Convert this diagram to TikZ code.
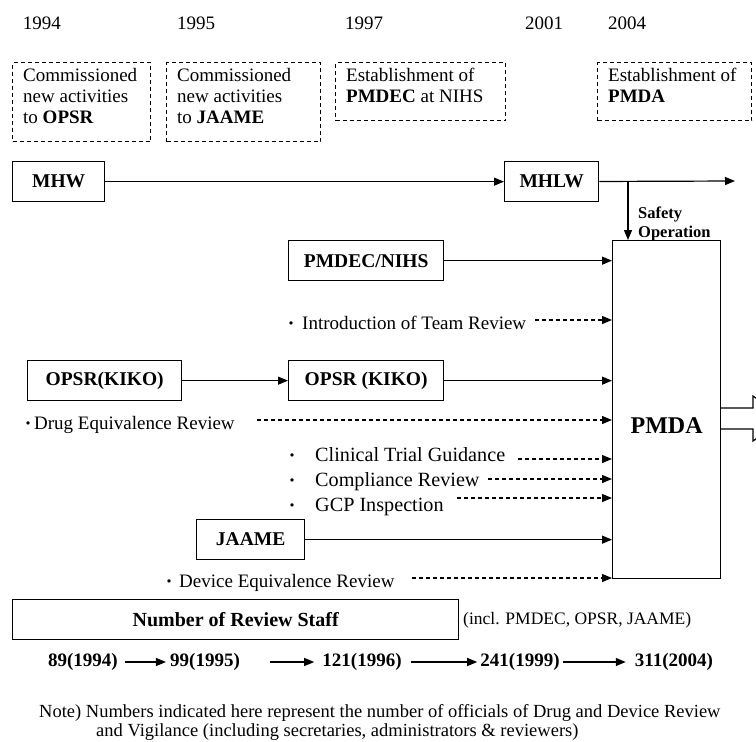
\documentclass[tikz,border=0pt]{standalone}
\usepackage{fontspec}
\setmainfont{Liberation Serif}
\newfontfamily\cjk{Noto Sans CJK JP}
\usetikzlibrary{arrows.meta}

\newcommand{\dotitem}[2]{\makebox[#1][l]{\makebox[6pt]{\cjk\fontsize{16}{16}\selectfont ・}}#2}

\begin{document}
\begin{tikzpicture}[x=1pt,y=-1pt,every node/.style={font=\fontsize{19}{21}\selectfont,inner sep=0pt},
  box/.style={draw,line width=1.3pt,minimum height=40pt,anchor=north west,font=\fontsize{19.5}{21}\selectfont\bfseries},
  datebox/.style={draw,line width=1.2pt,dash pattern=on 4pt off 3pt,anchor=north west},
  boxtext/.style={anchor=north west,align=left},
  item/.style={anchor=base west},
  bigitem/.style={item,font=\fontsize{20.2}{22}\selectfont},
  num/.style={font=\fontsize{19}{21}\selectfont\bfseries},
  arr/.style={-{Triangle[length=10pt,width=8pt]},line width=1.2pt},
  darr/.style={arr,dash pattern=on 4pt off 3pt}]
\useasboundingbox (0,0) rectangle (756,742);
\clip (0,0) rectangle (756,742);
% years
\node (y94) at (42,23) {1994};
\node (y95) at (196,23) {1995};
\node (y97) at (364,23) {1997};
\node (y01) at (544,23) {2001};
\node (y04) at (627,23) {2004};
% events
\node[datebox,minimum width=138pt,minimum height=79pt] (d94) at (12,62) {};
\node[boxtext] (t94) at (23,68) {Commissioned\\new activities\\to \textbf{OPSR}};
\node[datebox,minimum width=154pt,minimum height=79pt] (d95) at (166,62) {};
\node[boxtext] (t95) at (177,68) {Commissioned\\new activities\\to \textbf{JAAME}};
\node[datebox,minimum width=170pt,minimum height=58pt] (d97) at (335,62) {};
\node[boxtext] (t97) at (346,68) {Establishment of\\\textbf{PMDEC} at NIHS};
\node[datebox,minimum width=154pt,minimum height=58pt] (d04) at (597,62) {};
\node[boxtext] (t04) at (608,68) {Establishment of\\\textbf{PMDA}};
% organisations
\node[box,minimum width=92pt] (mhw) at (12,161) {MHW};
\node[box,minimum width=94pt] (mhlw) at (504,161) {MHLW};
\node[box,minimum width=108pt,minimum height=338pt,font=\fontsize{24}{26}\selectfont\bfseries,text height=48pt,text depth=0pt] (pmda) at (612,240) {PMDA};
\node[box,minimum width=155pt] (pmdec) at (288,240) {PMDEC/NIHS};
\node[box,minimum width=154pt] (kiko) at (27,360) {OPSR(KIKO)};
\node[box,minimum width=155pt] (opsr) at (288,360) {OPSR (KIKO)};
\node[box,minimum width=108pt] (jaame) at (196,519) {JAAME};
\node[boxtext,font=\fontsize{16.5}{19}\selectfont\bfseries] (safety) at (638,207) {Safety\\Operation};
\coordinate (mhlwend) at (735,181);
\coordinate (drop) at (628,240);
\draw[arr] (mhw) -- (mhlw);
\draw[arr] (mhlw) -- (mhlwend);
\draw[arr] (drop |- mhlw.east) -- (drop);
\draw[arr] (pmdec) -- (pmdec -| pmda.west);
\draw[arr] (kiko) -- (opsr);
\draw[arr] (opsr) -- (opsr -| pmda.west);
\draw[arr] (jaame) -- (jaame -| pmda.west);
% review functions
\node[item] (team) at (288,329) {\dotitem{14pt}{Introduction of Team Review}};
\node[item] (drug) at (25,429) {\dotitem{9pt}{Drug Equivalence Review}};
\node[bigitem] (clin) at (289,461) {\dotitem{26pt}{Clinical Trial Guidance}};
\node[bigitem] (comp) at (289,486) {\dotitem{26pt}{Compliance Review}};
\node[bigitem] (gcp) at (289,511) {\dotitem{26pt}{GCP Inspection}};
\node[item] (dev) at (166,587) {\dotitem{13pt}{Device Equivalence Review}};
\coordinate (s1) at (535,320);
\coordinate (s2) at (257,420);
\coordinate (s3) at (518,459);
\coordinate (s4) at (488,479);
\coordinate (s5) at (457,498);
\coordinate (s6) at (412,578);
\foreach \s in {s1,s2,s3,s4,s5,s6}
  \draw[darr] (\s) -- (\s -| pmda.west);
% outgoing block arrow
\draw[line width=1.2pt] (720,408) -- (753,408) -- (753,396) -- (785,418.5) -- (753,441) -- (753,429) -- (720,429);
% staff numbers
\node[box,minimum width=446pt,minimum height=40pt,font=\fontsize{20}{21}\selectfont\bfseries] (staff) at (12,599) {Number of Review Staff};
\node[anchor=west,font=\fontsize{17.5}{19}\selectfont] (incl) at (463,620) {(incl. PMDEC, OPSR, JAAME)};
\node[num] (n94) at (83,662) {89(1994)};
\node[num] (n95) at (205,662) {99(1995)};
\node[num] (n96) at (362,662) {121(1996)};
\node[num] (n99) at (520,662) {241(1999)};
\node[num] (n04) at (674,662) {311(2004)};
\draw[arr] ([xshift=7pt]n94.east) -- ([xshift=-4pt]n95.west);
\draw[arr] ([xshift=30pt]n95.east) -- ([xshift=-8pt]n96.west);
\draw[arr] ([xshift=9pt]n96.east) -- ([xshift=-3pt]n99.west);
\draw[arr] ([xshift=3pt]n99.east) -- ([xshift=-9pt]n04.west);
\node[boxtext,font=\fontsize{18.5}{19.5}\selectfont] (note) at (39,704) {Note) Numbers indicated here represent the number of officials of Drug and Device Review\\\hspace*{57pt}and Vigilance (including secretaries, administrators \& reviewers)};
\end{tikzpicture}
\end{document}
